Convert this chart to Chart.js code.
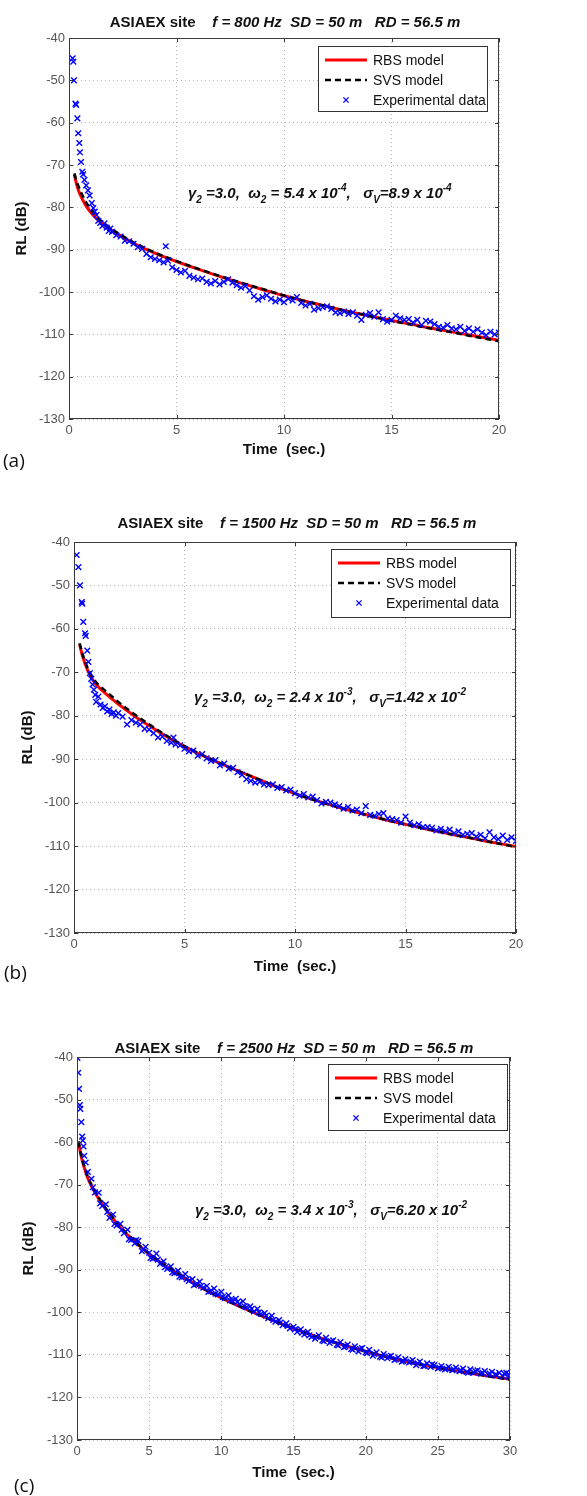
<!DOCTYPE html>
<html>
<head>
<meta charset="utf-8">
<script src="https://cdn.jsdelivr.net/npm/chart.js@4.4.0/dist/chart.umd.min.js"></script>
<style>
  body { margin: 0; background: #fff; }
  #page { position: relative; width: 587px; height: 1496px; overflow: hidden; font-family: "Liberation Sans", Arial, sans-serif; color: #111; }
  .panel { position: absolute; left: 0; }
  .title { position: absolute; font-weight: bold; font-size: 15px; line-height: 18px; white-space: pre; transform: translateX(-50%); }
  .title i { font-style: italic; }
  .note { position: absolute; font-weight: bold; font-style: italic; font-size: 15px; line-height: 18px; white-space: pre; }
  .note sub, .note sup { font-size: 10px; line-height: 0; position: relative; vertical-align: baseline; }
  .note sub { top: 5px; }
  .note sup { top: -7px; }
  .tag { position: absolute; font-family: "Open Sans", sans-serif; font-size: 19px; line-height: 24px; }
</style>
</head>
<body>
<div id="page">
  <canvas id="panelA" class="panel" width="587" height="480" style="top:0px"></canvas>
  <canvas id="panelB" class="panel" width="587" height="510" style="top:480px"></canvas>
  <canvas id="panelC" class="panel" width="587" height="506" style="top:990px"></canvas>

  <div class="title" style="left:285px;top:13px">ASIAEX site    <i>f = 800 Hz  SD = 50 m   RD = 56.5 m</i></div>
  <div class="title" style="left:297px;top:514px">ASIAEX site    <i>f = 1500 Hz  SD = 50 m   RD = 56.5 m</i></div>
  <div class="title" style="left:294px;top:1039px">ASIAEX site    <i>f = 2500 Hz  SD = 50 m   RD = 56.5 m</i></div>

  <div class="note" style="left:188px;top:184px">γ<sub>2</sub> =3.0,  ω<sub>2</sub> = 5.4 x 10<sup>-4</sup>,   σ<sub>V</sub>=8.9 x 10<sup>-4</sup></div>
  <div class="note" style="left:194px;top:688px">γ<sub>2</sub> =3.0,  ω<sub>2</sub> = 2.4 x 10<sup>-3</sup>,   σ<sub>V</sub>=1.42 x 10<sup>-2</sup></div>
  <div class="note" style="left:195px;top:1201px">γ<sub>2</sub> =3.0,  ω<sub>2</sub> = 3.4 x 10<sup>-3</sup>,   σ<sub>V</sub>=6.20 x 10<sup>-2</sup></div>

  <div class="tag" style="left:3px;top:448px">(a)</div>
  <div class="tag" style="left:4px;top:960px">(b)</div>
  <div class="tag" style="left:14px;top:1473px">(c)</div>
</div>

<script>
// ---------- data: [time (s), RL (dB)] ----------
const legendNames = ["RBS model", "SVS model", "Experimental data"];
const yTicks = [-130, -40, 10];

// (a) f = 800 Hz
const rbsA = [[0.25,-72.3],[0.35,-74.5],[0.5,-76.8],[0.75,-79.3],[1,-81.1],[1.25,-82.5],[1.5,-83.6],[2,-85.5],[2.5,-87],[3,-88.5],[4,-90.8],[5,-92.8],[6,-94.6],[7,-96.3],[8,-97.9],[9,-99.4],[10,-100.9],[11,-102.2],[12,-103.4],[13,-104.6],[14,-105.7],[15,-106.7],[16,-107.7],[17,-108.7],[18,-109.6],[19,-110.5],[20,-111.4]];
const svsA = [[0.25,-72],[0.35,-73.8],[0.5,-75.8],[0.75,-78.4],[1,-80.4],[1.25,-82],[1.5,-83.2],[2,-85.2],[2.5,-86.8],[3,-88.3],[4,-90.7],[5,-92.7],[6,-94.5],[7,-96.2],[8,-97.8],[9,-99.3],[10,-100.8],[11,-102.2],[12,-103.4],[13,-104.6],[14,-105.7],[15,-106.8],[16,-107.8],[17,-108.8],[18,-109.7],[19,-110.7],[20,-111.6]];
const expA = [[0.17,-44.8],[0.2,-45.6],[0.23,-50],[0.3,-55.5],[0.33,-55.8],[0.39,-59],[0.43,-62.5],[0.48,-64.8],[0.51,-67],[0.56,-69.3],[0.62,-71.6],[0.66,-72.2],[0.72,-73.5],[0.8,-74.8],[0.88,-76],[0.96,-77.2],[1.06,-79],[1.13,-80.2],[1.2,-81],[1.28,-81.8],[1.36,-83.2],[1.45,-83.7],[1.55,-84.4],[1.65,-83.8],[1.75,-84.8],[1.85,-85.6],[1.92,-85],
  [2,-85.8],[2.2,-86.6],[2.4,-86.9],[2.6,-87.9],[2.8,-88],[3,-88.6],[3.2,-89.4],[3.4,-89.8],[3.6,-91],[3.8,-91.8],[4,-92.2],[4.2,-92.5],[4.4,-93],[4.5,-89.2],[4.6,-92.6],[4.8,-94.2],[5,-94.8],[5.2,-95.4],[5.4,-95],[5.6,-96.2],[5.8,-96.6],[6,-97],[6.2,-96.8],[6.4,-97.6],[6.6,-98],[6.8,-97.4],[7,-98.2],[7.2,-97.6],[7.4,-97],[7.6,-97.8],[7.8,-98.4],[8,-99],[8.2,-98.6],[8.4,-99.6],[8.6,-101],[8.8,-101.8],[9,-101.2],[9.2,-100.8],[9.4,-101.6],[9.6,-102.2],[9.8,-101.8],[10,-102.4],
  [10.2,-101.6],[10.4,-102],[10.6,-101.2],[10.8,-102.6],[11,-103.2],[11.2,-102.8],[11.4,-104.2],[11.6,-103.8],[11.8,-103.6],[12,-103.4],[12.2,-104],[12.4,-104.8],[12.6,-105],[12.8,-104.6],[13,-105.2],[13.2,-104.8],[13.4,-105.6],[13.6,-106.6],[13.8,-105.4],[14,-105],[14.2,-105.8],[14.4,-104.8],[14.6,-106.4],[14.8,-107],[15,-106.6],[15.2,-105.6],[15.4,-106.2],[15.6,-106.6],[15.8,-106.4],[16,-107.2],[16.2,-106.6],[16.4,-107.8],[16.6,-106.8],[16.8,-107],[17,-107.6],[17.2,-108.2],[17.4,-108.4],[17.6,-107.8],[17.8,-108.6],[18,-108.8],[18.2,-108.2],[18.4,-109.2],[18.6,-108.6],[18.8,-109.4],[19,-108.8],[19.2,-109.6],[19.4,-110.2],[19.6,-109.4],[19.8,-110],[20,-109.6]];

// (b) f = 1500 Hz
const rbsB = [[0.25,-63.5],[0.4,-66.5],[0.6,-69.3],[0.8,-71.3],[1,-72.8],[1.5,-75.2],[2,-77.3],[2.5,-79.2],[3,-81],[3.5,-82.6],[4,-84.2],[4.5,-85.7],[5,-87.1],[6,-89.6],[7,-91.8],[8,-93.9],[9,-96],[10,-97.9],[11,-99.6],[12,-101.1],[13,-102.5],[14,-103.8],[15,-105],[16,-106.1],[17,-107.2],[18,-108.2],[19,-109.2],[20,-110.1]];
const svsB = [[0.25,-63.3],[0.4,-66],[0.6,-68.8],[0.8,-70.8],[1,-72.3],[1.5,-74.6],[2,-76.8],[2.5,-78.8],[3,-80.6],[3.5,-82.3],[4,-84],[4.5,-85.5],[5,-87],[6,-89.5],[7,-91.8],[8,-93.9],[9,-96],[10,-97.9],[11,-99.6],[12,-101.1],[13,-102.5],[14,-103.8],[15,-105],[16,-106.1],[17,-107.2],[18,-108.2],[19,-109.2],[20,-110.2]];
const expB = [[0.12,-43],[0.2,-45.8],[0.27,-50],[0.35,-53.8],[0.37,-54.2],[0.42,-58.4],[0.5,-61],[0.53,-61.6],[0.6,-65],[0.65,-67.6],[0.72,-70.2],[0.78,-71.5],[0.84,-72.8],[0.9,-74],[0.96,-75.2],
  [1,-76.8],[1.1,-75.6],[1.2,-77.4],[1.3,-78.2],[1.4,-77.8],[1.5,-79],[1.6,-78.6],[1.7,-79.6],[1.8,-79.2],[1.9,-80],[2,-79.4],[2.2,-80.2],[2.4,-82],[2.6,-81],[2.8,-81.6],[3,-82],[3.2,-83],[3.4,-83.2],[3.6,-84],[3.8,-85],[4,-84.8],[4.2,-85.8],[4.4,-86.2],[4.5,-85],[4.6,-86.6],[4.8,-86.8],[5,-87.6],
  [5.2,-88.2],[5.4,-88],[5.6,-89.2],[5.8,-88.8],[6,-89.8],[6.2,-90.4],[6.4,-90.2],[6.6,-91.4],[6.8,-91],[7,-92.2],[7.2,-92],[7.4,-93],[7.6,-93.6],[7.8,-94.6],[8,-95],[8.2,-95.4],[8.4,-95.2],[8.6,-95.8],[8.8,-96],[9,-95.8],[9.2,-96.6],[9.4,-96.4],[9.6,-97.2],[9.8,-97],[10,-97.8],
  [10.2,-98.4],[10.4,-98],[10.6,-98.8],[10.8,-98.6],[11,-99.4],[11.2,-100.2],[11.4,-99.8],[11.6,-100],[11.8,-100.4],[12,-100.8],[12.2,-101.4],[12.4,-101],[12.6,-101.8],[12.8,-101.6],[13,-102.4],[13.2,-100.8],[13.4,-102.8],[13.6,-103],[13.8,-102.6],[14,-102.4],[14.2,-103.6],[14.4,-103.8],[14.6,-104],[14.8,-104.6],[15,-103.2],
  [15.2,-104.6],[15.4,-105.2],[15.6,-105],[15.8,-105.6],[16,-105.6],[16.2,-105.8],[16.4,-106.4],[16.6,-106],[16.8,-106.6],[17,-106.2],[17.2,-107],[17.4,-106.6],[17.6,-107.4],[17.8,-107.2],[18,-107],[18.2,-107.8],[18.4,-107.4],[18.6,-108.2],[18.8,-106.8],[19,-108],[19.2,-108.4],[19.4,-107.6],[19.6,-108.6],[19.8,-108],[20,-108.8]];

// (c) f = 2500 Hz
const rbsC = [[0.1,-60],[0.3,-63.5],[0.5,-66],[0.75,-68.5],[1,-70.3],[1.5,-73.3],[2,-75.8],[2.5,-78],[3,-80],[3.5,-81.8],[4,-83.4],[5,-86.3],[6,-88.8],[7,-91],[8,-93],[9,-94.9],[10,-96.6],[11,-98.2],[12,-99.7],[13,-101.1],[14,-102.5],[15,-103.8],[16,-105],[17,-106.2],[18,-107.2],[19,-108.2],[20,-109.2],[21,-110.1],[22,-110.9],[23,-111.7],[24,-112.4],[25,-113],[26,-113.6],[27,-114.2],[28,-114.7],[29,-115.2],[30,-115.7]];
const svsC = [[0.1,-59.8],[0.3,-63.2],[0.5,-65.6],[0.75,-68.1],[1,-70],[1.5,-73],[2,-75.6],[2.5,-77.8],[3,-79.9],[3.5,-81.7],[4,-83.3],[5,-86.2],[6,-88.7],[7,-90.9],[8,-93],[9,-94.9],[10,-96.6],[11,-98.2],[12,-99.7],[13,-101.1],[14,-102.5],[15,-103.8],[16,-105],[17,-106.2],[18,-107.2],[19,-108.2],[20,-109.2],[21,-110.1],[22,-110.9],[23,-111.7],[24,-112.4],[25,-113],[26,-113.6],[27,-114.2],[28,-114.7],[29,-115.3],[30,-115.8]];
const expC = [[0.03,-40.2],[0.08,-43.7],[0.14,-47.5],[0.2,-51.3],[0.23,-52.2],[0.3,-55.3],[0.36,-58.7],[0.4,-59.6],[0.45,-61],
  [0.5,-63.2],[0.75,-67],[1,-68.6],[1.25,-71.8],[1.5,-71.9],[1.75,-75],[2,-74.6],[2.25,-77.8],[2.5,-77],[2.75,-79.6],[3,-79.2],[3.25,-81.4],[3.5,-80.6],[3.75,-83],[4,-83.8],[4.25,-83.2],[4.5,-85.6],[4.75,-84.6],[5,-86],
  [5.25,-87.4],[5.5,-86.2],[5.75,-88.6],[6,-88],[6.25,-89.8],[6.5,-89.2],[6.75,-90.8],[7,-90.2],[7.25,-91.8],[7.5,-91],[7.75,-92.6],[8,-92.2],[8.25,-93.4],[8.5,-92.8],[8.75,-94.2],[9,-93.8],[9.25,-95],[9.5,-94.4],[9.75,-95.8],[10,-95.2],
  [10.25,-96.6],[10.5,-96],[10.75,-97.2],[11,-96.8],[11.25,-98],[11.5,-97.4],[11.75,-98.8],[12,-98.6],[12.25,-99.8],[12.5,-99.2],[12.75,-100.4],[13,-100.2],[13.25,-101.4],[13.5,-100.8],[13.75,-102.2],[14,-101.8],[14.25,-103],[14.5,-102.6],[14.75,-103.8],[15,-103.4],
  [15.25,-104.6],[15.5,-104],[15.75,-105.2],[16,-104.6],[16.25,-105.8],[16.5,-106.2],[16.75,-105.4],[17,-106.6],[17.25,-106],[17.5,-107.2],[17.75,-106.6],[18,-107.6],[18.25,-107],[18.5,-108.2],[18.75,-107.6],[19,-108.6],[19.25,-108],[19.5,-109.2],[19.75,-108.4],[20,-109.4],
  [20.25,-108.8],[20.5,-110.2],[20.75,-109.4],[21,-110.4],[21.25,-109.8],[21.5,-110.8],[21.75,-110.2],[22,-111.2],[22.25,-110.6],[22.5,-111.6],[22.75,-111],[23,-111.8],[23.25,-111.2],[23.5,-112.4],[23.75,-111.6],[24,-112.6],[24.25,-112],[24.5,-112.8],[24.75,-112.4],[25,-113.2],
  [25.25,-112.6],[25.5,-113.4],[25.75,-112.8],[26,-113.6],[26.25,-113],[26.5,-113.8],[26.75,-113.2],[27,-114],[27.25,-113.4],[27.5,-114.2],[27.75,-113.6],[28,-114.4],[28.25,-113.8],[28.5,-114.6],[28.75,-114],[29,-114.6],[29.25,-114.2],[29.5,-115],[29.75,-114.2],[30,-114.8],
  [0.6,-64.8],[1.1,-70.6],[1.6,-74.4],[2.1,-76.4],[2.6,-79.2],[3.1,-80.6],[3.6,-82.8],[4.1,-83],[4.6,-85.2],[5.1,-87.2],[5.6,-87.6],[6.1,-89.4],[6.6,-90.6],[7.1,-91.6],[7.6,-92.2],[8.1,-93.6],[8.6,-93.8],[9.1,-95.2],[9.6,-95.6],[10.1,-96.4],
  [10.6,-97.2],[11.1,-97.6],[11.6,-98.6],[12.1,-99.2],[12.6,-100],[13.1,-100.8],[13.6,-101.8],[14.1,-102.4],[14.6,-103.2],[15.1,-104],[15.6,-104.8],[16.1,-105.4],[16.6,-105.8],[17.1,-106.8],[17.6,-106.8],[18.1,-107.8],[18.6,-108],[19.1,-108.8],[19.6,-108.6],[20.1,-109.6],
  [20.6,-109.8],[21.1,-110.6],[21.6,-110.4],[22.1,-111],[22.6,-111.4],[23.1,-111.6],[23.6,-112],[24.1,-112.6],[24.6,-112.2],[25.1,-113],[25.6,-113.2],[26.1,-113.4],[26.6,-113.6],[27.1,-114.2],[27.6,-113.8],[28.1,-114.2],[28.6,-114.4],[29.1,-114.8],[29.6,-114.4],[29.9,-115.2]];

// ---------- layout (canvas px) ----------
const panels = [
  { id: "panelA", xMax: 20, rbs: rbsA, svs: svsA, exp: expA,
    area: { left: 69, right: 499, top: 38, bottom: 419 }, yTitleX: 22, xTitleY: 450,
    legend: { left: 318, top: 46, width: 169, height: 65 } },
  { id: "panelB", xMax: 20, rbs: rbsB, svs: svsB, exp: expB,
    area: { left: 74, right: 516, top: 62, bottom: 453 }, yTitleX: 28, xTitleY: 487,
    legend: { left: 331, top: 69, width: 179, height: 68 } },
  { id: "panelC", xMax: 30, rbs: rbsC, svs: svsC, exp: expC,
    area: { left: 77, right: 510, top: 67, bottom: 450 }, yTitleX: 29, xTitleY: 483,
    legend: { left: 328, top: 74, width: 179, height: 66 } },
];

const toXY = pts => pts.map(p => ({ x: p[0], y: p[1] }));

// axes box and inward tick marks, matlab style
const framePlugin = {
  id: "frame",
  afterDatasetsDraw(chart) {
    const { ctx, chartArea: a, scales: { x, y } } = chart;
    ctx.save();
    ctx.strokeStyle = "#3a3a3a";
    ctx.lineWidth = 1;
    ctx.strokeRect(Math.round(a.left) + 0.5, Math.round(a.top) + 0.5, Math.round(a.width) - 1, Math.round(a.height) - 1);
    ctx.beginPath();
    x.ticks.forEach(t => {
      const px = Math.round(x.getPixelForValue(t.value)) + 0.5;
      ctx.moveTo(px, a.bottom); ctx.lineTo(px, a.bottom - 4);
      ctx.moveTo(px, a.top); ctx.lineTo(px, a.top + 4);
    });
    y.ticks.forEach(t => {
      const py = Math.round(y.getPixelForValue(t.value)) + 0.5;
      ctx.moveTo(a.left, py); ctx.lineTo(a.left + 4, py);
      ctx.moveTo(a.right, py); ctx.lineTo(a.right - 4, py);
    });
    ctx.stroke();
    ctx.restore();
  }
};

function legendPlugin(box) {
  return {
    id: "boxLegend",
    afterDraw(chart) {
      const ctx = chart.ctx;
      const sets = [chart.data.datasets[2], chart.data.datasets[1], chart.data.datasets[0]];
      ctx.save();
      ctx.fillStyle = "#fff";
      ctx.fillRect(box.left, box.top, box.width, box.height);
      ctx.strokeStyle = "#333";
      ctx.lineWidth = 1;
      ctx.strokeRect(box.left + 0.5, box.top + 0.5, box.width, box.height);
      sets.forEach((ds, i) => {
        const ry = box.top + 14 + i * 20;
        const x0 = box.left + 7, x1 = box.left + 49;
        ctx.strokeStyle = ds.borderColor;
        if (ds.showLine === false) {
          const r = 2.6, cx = (x0 + x1) / 2;
          ctx.lineWidth = 1.3;
          ctx.beginPath();
          ctx.moveTo(cx - r, ry - r); ctx.lineTo(cx + r, ry + r);
          ctx.moveTo(cx - r, ry + r); ctx.lineTo(cx + r, ry - r);
          ctx.stroke();
        } else {
          ctx.lineWidth = ds.borderWidth;
          ctx.setLineDash(ds.borderDash || []);
          ctx.beginPath();
          ctx.moveTo(x0, ry); ctx.lineTo(x1, ry);
          ctx.stroke();
          ctx.setLineDash([]);
        }
        ctx.fillStyle = "#111";
        ctx.font = '14px "Liberation Sans", Arial, sans-serif';
        ctx.textBaseline = "middle";
        ctx.fillText(ds.label, box.left + 55, ry + 1);
      });
      ctx.restore();
    }
  };
}

function makePanel(p) {
  const canvas = document.getElementById(p.id);
  const W = canvas.width, H = canvas.height;
  const axisFont = { family: '"Liberation Sans", Arial, sans-serif', size: 15, weight: "bold", lineHeight: 1.2 };
  const tickFont = { family: '"Liberation Sans", Arial, sans-serif', size: 13 };
  new Chart(canvas, {
    type: "scatter",
    data: {
      datasets: [
        { label: legendNames[2], data: toXY(p.exp), showLine: false, pointStyle: "crossRot",
          pointRadius: 4, borderColor: "#0000ff", backgroundColor: "#0000ff", borderWidth: 1.4, order: 0 },
        { type: "line", label: legendNames[1], data: toXY(p.svs), borderColor: "#000000", borderWidth: 2.6,
          borderDash: [6, 4], pointRadius: 0, cubicInterpolationMode: "monotone", order: 1 },
        { type: "line", label: legendNames[0], data: toXY(p.rbs), borderColor: "#ff0000", borderWidth: 3,
          pointRadius: 0, cubicInterpolationMode: "monotone", order: 2 },
      ],
    },
    options: {
      responsive: false,
      animation: false,
      events: [],
      layout: { padding: { left: 0, right: W - p.area.right, top: p.area.top, bottom: 0 } },
      plugins: { legend: { display: false }, tooltip: { enabled: false } },
      scales: {
        x: {
          type: "linear", min: 0, max: p.xMax,
          ticks: { stepSize: 5, color: "#555", font: tickFont, padding: 4 },
          grid: { color: "#b8b8b8", lineWidth: 1, drawTicks: false },
          border: { display: false, dash: [1, 3] },
          title: { display: true, text: "Time  (sec.)", color: "#111", font: axisFont,
                   padding: { top: 0, bottom: H - p.xTitleY - 9 } },
          afterFit: s => { s.height = H - p.area.bottom; },
        },
        y: {
          type: "linear", min: yTicks[0], max: yTicks[1],
          ticks: { stepSize: yTicks[2], color: "#555", font: tickFont, padding: 4 },
          grid: { color: "#b8b8b8", lineWidth: 1, drawTicks: false },
          border: { display: false, dash: [1, 3] },
          title: { display: true, text: "RL (dB)", color: "#111", font: axisFont,
                   padding: { top: p.yTitleX - 9, bottom: 0 } },
          afterFit: s => { s.width = p.area.left; },
        },
      },
    },
    plugins: [framePlugin, legendPlugin(p.legend)],
  });
}

panels.forEach(makePanel);
</script>
</body>
</html>
